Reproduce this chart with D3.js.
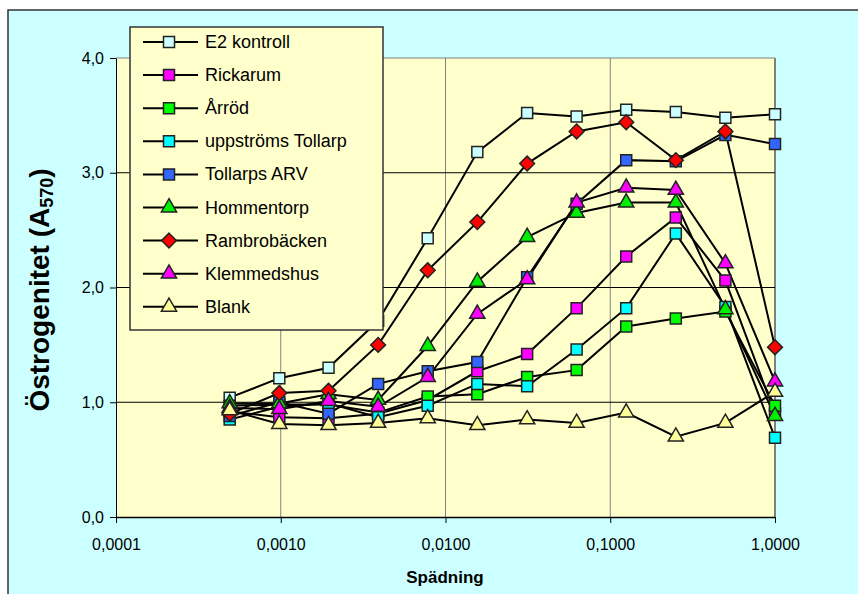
<!DOCTYPE html>
<meta charset="utf-8">
<style>
body { margin: 0; background: #fff; }
text { font-family: "Liberation Sans", Arial, sans-serif; }
.axis path, .axis line { stroke: #000; }
</style>
<svg width="858" height="594"></svg>
<script src="https://d3js.org/d3.v7.min.js"></script>
<script>

// dilution steps (x) and measured absorbance per sample
var dilution = [0.00049, 0.00098, 0.00195, 0.0039, 0.0078, 0.0156, 0.0313, 0.0625, 0.125, 0.25, 0.5, 1];

var e2Kontroll   = [1.04, 1.21, 1.30, 1.71, 2.43, 3.18, 3.52, 3.49, 3.55, 3.53, 3.48, 3.51];
var rickarum     = [0.92, 0.87, 0.86, 0.90, 1.02, 1.27, 1.42, 1.82, 2.27, 2.61, 2.06, 0.90];
var arrod        = [0.97, 0.98, 0.98, 0.91, 1.05, 1.07, 1.22, 1.28, 1.66, 1.73, 1.79, 0.97];
var uppstroms    = [0.85, 0.96, 0.99, 0.87, 0.97, 1.16, 1.14, 1.46, 1.82, 2.47, 1.83, 0.69];
var tollarpsArv  = [0.88, 1.00, 0.90, 1.16, 1.27, 1.35, 2.09, 2.73, 3.11, 3.10, 3.33, 3.25];
var hommentorp   = [0.99, 0.99, 1.07, 1.02, 1.49, 2.05, 2.44, 2.65, 2.74, 2.74, 1.81, 0.88];
var rambrobacken = [0.90, 1.08, 1.10, 1.50, 2.15, 2.57, 3.08, 3.36, 3.44, 3.11, 3.36, 1.48];
var klemmedshus  = [0.95, 0.94, 1.01, 0.96, 1.22, 1.77, 2.07, 2.74, 2.87, 2.85, 2.21, 1.18];
var blank        = [0.93, 0.81, 0.80, 0.82, 0.86, 0.80, 0.85, 0.82, 0.91, 0.70, 0.82, 1.09];

var xTicks = [0.0001, 0.001, 0.01, 0.1, 1];
var yTicks = [0, 1, 2, 3, 4];

var series = [
  {name: "E2 kontroll",       values: e2Kontroll,   shape: "square",   color: "#ccffff"},
  {name: "Rickarum",          values: rickarum,     shape: "square",   color: "#ff00ff"},
  {name: "Årröd",             values: arrod,        shape: "square",   color: "#00ff00"},
  {name: "uppströms Tollarp", values: uppstroms,    shape: "square",   color: "#00ffff"},
  {name: "Tollarps ARV",      values: tollarpsArv,  shape: "square",   color: "#3366ff"},
  {name: "Hommentorp",        values: hommentorp,   shape: "triangle", color: "#00ee00"},
  {name: "Rambrobäcken",      values: rambrobacken, shape: "diamond",  color: "#ff0000"},
  {name: "Klemmedshus",       values: klemmedshus,  shape: "triangle", color: "#ff00ff"},
  {name: "Blank",             values: blank,        shape: "triangle", color: "#ffff99"}
];

var svg = d3.select("svg");

var x = d3.scaleLog().domain([0.0001, 1]).range([116, 775]),
    y = d3.scaleLinear().domain([0, 4]).range([517, 58]);

// outer chart area
svg.append("rect")
    .attr("x", 8).attr("y", 10)
    .attr("width", 870).attr("height", 600)
    .attr("fill", "#ccffff")
    .attr("stroke", "#333").attr("stroke-width", 1.5);

// plot area
svg.append("rect")
    .attr("x", x(0.0001)).attr("y", y(4))
    .attr("width", x(1) - x(0.0001)).attr("height", y(0) - y(4))
    .attr("fill", "#ffffcc");

// vertical gridlines
svg.append("g").selectAll("line")
    .data(xTicks.slice(1))
    .enter().append("line")
    .attr("x1", function(d) { return x(d); })
    .attr("x2", function(d) { return x(d); })
    .attr("y1", y(4)).attr("y2", y(0))
    .attr("stroke", "#808080")
    .attr("stroke-width", function(d) { return d === 1 ? 2 : 1; });

// horizontal gridlines
svg.append("g").selectAll("line")
    .data(yTicks.slice(1))
    .enter().append("line")
    .attr("x1", x(0.0001)).attr("x2", x(1))
    .attr("y1", function(d) { return y(d); })
    .attr("y2", function(d) { return y(d); })
    .attr("stroke", function(d) { return d === 4 ? "#808080" : "#000"; })
    .attr("stroke-width", 1);

var comma = function(s) { return s.replace(".", ","); };

svg.append("g")
    .attr("class", "axis")
    .attr("transform", "translate(" + x(0.0001) + ",0)")
    .call(d3.axisLeft(y).tickValues(yTicks).tickSize(6).tickSizeOuter(0)
      .tickFormat(function(d) { return comma(d3.format(".1f")(d)); }))
    .call(function(g) {
      g.selectAll("text").attr("font-size", 16).attr("x", -12)
        .attr("font-family", "Liberation Sans, Arial, sans-serif").attr("fill", "#000");
    });

svg.append("g")
    .attr("class", "axis")
    .attr("transform", "translate(0," + y(0) + ")")
    .call(d3.axisBottom(x).tickValues(xTicks).tickSize(6).tickSizeOuter(0)
      .tickFormat(function(d) { return comma(d3.format(".4f")(d)); }))
    .call(function(g) {
      g.select(".domain").attr("stroke-width", 1.5);
      g.selectAll("text").attr("font-size", 16).attr("y", 22)
        .attr("font-family", "Liberation Sans, Arial, sans-serif").attr("fill", "#000");
    });

svg.append("text")
    .attr("x", 445).attr("y", 583)
    .attr("text-anchor", "middle")
    .attr("font-size", 17).attr("font-weight", "bold")
    .text("Spädning");

var yTitle = svg.append("text")
    .attr("transform", "translate(49,290) rotate(-90)")
    .attr("text-anchor", "middle")
    .attr("font-size", 28).attr("font-weight", "bold");
yTitle.append("tspan").text("Östrogenitet (A");
yTitle.append("tspan").attr("font-size", 18).attr("dy", 4).text("570");
yTitle.append("tspan").attr("dy", -4).text(")");

// diamond with equal width and height
var diamond = {
  draw: function(context, size) {
    var r = Math.sqrt(size / 2);
    context.moveTo(0, -r);
    context.lineTo(r, 0);
    context.lineTo(0, r);
    context.lineTo(-r, 0);
    context.closePath();
  }
};

var symbols = {
  square: d3.symbol().type(d3.symbolSquare).size(121),
  triangle: d3.symbol().type(d3.symbolTriangle).size(100),
  diamond: d3.symbol().type(diamond).size(110)
};

var line = d3.line()
    .x(function(d) { return x(d[0]); })
    .y(function(d) { return y(d[1]); });

series.forEach(function(s) {
  var pts = dilution.map(function(d, i) { return [d, s.values[i]]; });
  svg.append("path")
      .datum(pts)
      .attr("fill", "none")
      .attr("stroke", "#000")
      .attr("stroke-width", 2)
      .attr("d", line);
});

series.forEach(function(s) {
  var pts = dilution.map(function(d, i) { return [d, s.values[i]]; });
  svg.append("g").selectAll("path")
      .data(pts)
      .enter().append("path")
      .attr("transform", function(d) { return "translate(" + x(d[0]) + "," + y(d[1]) + ")"; })
      .attr("d", symbols[s.shape])
      .attr("fill", s.color)
      .attr("stroke", "#222")
      .attr("stroke-width", 1.5);
});

// legend
var legend = svg.append("g");
legend.append("rect")
    .attr("x", 130).attr("y", 27)
    .attr("width", 253).attr("height", 303)
    .attr("fill", "#ffffcc")
    .attr("stroke", "#333").attr("stroke-width", 1.5);

var item = legend.selectAll(".item")
    .data(series)
    .enter().append("g")
    .attr("class", "item")
    .attr("transform", function(d, i) { return "translate(0," + (42 + i * 33.1) + ")"; });

item.append("line")
    .attr("x1", 143).attr("x2", 198)
    .attr("stroke", "#000").attr("stroke-width", 2);

item.append("path")
    .attr("transform", "translate(169,0)")
    .attr("d", function(d) { return symbols[d.shape](); })
    .attr("fill", function(d) { return d.color; })
    .attr("stroke", "#222").attr("stroke-width", 1.5);

item.append("text")
    .attr("x", 205).attr("y", 6)
    .attr("font-size", 18)
    .text(function(d) { return d.name; });

</script>
